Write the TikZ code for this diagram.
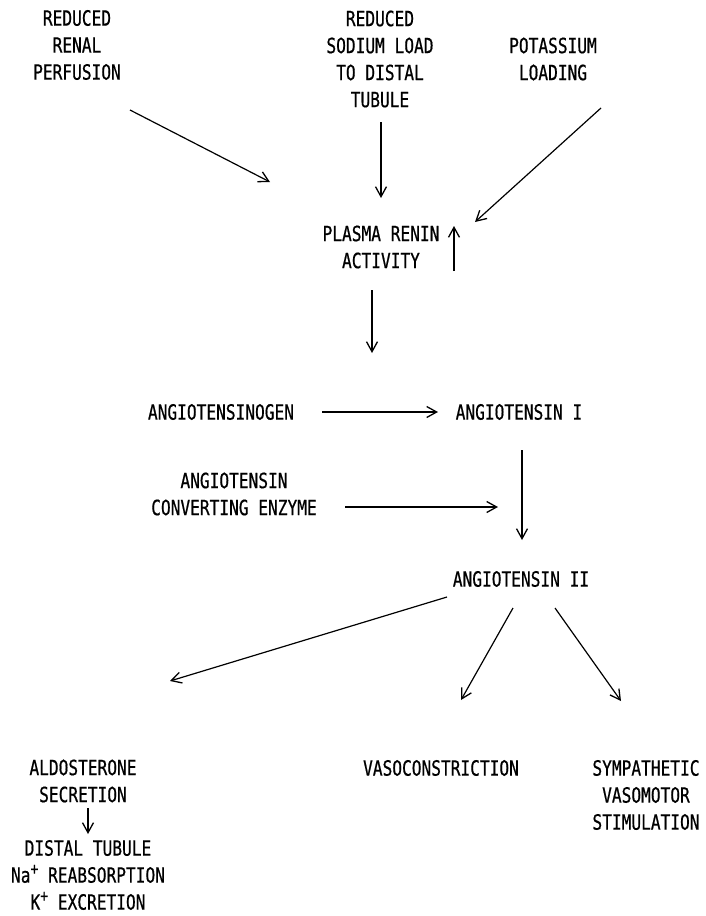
\documentclass[tikz,border=0pt]{standalone}
\usepackage{fontspec}
\setmainfont[FakeStretch=0.77,FakeBold=0.6]{DejaVu Sans Mono}
\usetikzlibrary{arrows.meta}
\newcommand{\supplus}{\raisebox{0.7ex}{\fontsize{17}{17}\selectfont+}}
\begin{document}
\begin{tikzpicture}[x=1pt,y=-1pt,
  lbl/.style={align=center,inner sep=0pt,font=\fontsize{21}{27}\selectfont},
  arr/.style={line width=1.2pt,-{Straight Barb[length=10pt,width=11pt,line width=1.3pt]}}]
\useasboundingbox (0,0) rectangle (706,916);
% texts
\node[lbl] (rrp) at (77,45) {REDUCED\\RENAL\\PERFUSION};
\node[lbl] (rsl) at (380,59) {REDUCED\\SODIUM LOAD\\TO DISTAL\\TUBULE};
\node[lbl] (pl) at (553,59) {POTASSIUM\\LOADING};
\node[lbl] (pra) at (381,247) {PLASMA RENIN\\ACTIVITY};
\node[lbl] (agen) at (221,412) {ANGIOTENSINOGEN};
\node[lbl] (a1) at (519,412) {ANGIOTENSIN I};
\node[lbl] (ace) at (234,494) {ANGIOTENSIN\\CONVERTING ENZYME};
\node[lbl] (a2) at (521,579) {ANGIOTENSIN II};
\node[lbl] (ald) at (83,781) {ALDOSTERONE\\SECRETION};
\node[lbl] (dt) at (88,875) {DISTAL TUBULE\\Na\supplus{} REABSORPTION\\K\supplus{} EXCRETION};
\node[lbl] (vc) at (441,768) {VASOCONSTRICTION};
\node[lbl] (svs) at (646,795) {SYMPATHETIC\\VASOMOTOR\\STIMULATION};
% connector endpoints
\coordinate (c1s) at (130,110); \coordinate (c1e) at (270,182);
\coordinate (c2s) at (381,122); \coordinate (c2e) at (381,198);
\coordinate (c3s) at (601,108); \coordinate (c3e) at (475,222);
\coordinate (ups) at (454,271); \coordinate (upe) at (454,226);
\coordinate (c4s) at (372,290); \coordinate (c4e) at (372,353);
\coordinate (c5s) at (322,412); \coordinate (c5e) at (438,412);
\coordinate (c6s) at (345,507); \coordinate (c6e) at (498,507);
\coordinate (c7s) at (522,450); \coordinate (c7e) at (522,540);
\coordinate (c8s) at (447,597); \coordinate (c8e) at (170,681);
\coordinate (c9s) at (513,608); \coordinate (c9e) at (461,700);
\coordinate (c10s) at (555,608); \coordinate (c10e) at (621,701);
\coordinate (c11s) at (88,808); \coordinate (c11e) at (88,834);
\draw[arr] (c1s) -- (c1e);
\draw[arr] (c2s) -- (c2e);
\draw[arr] (c3s) -- (c3e);
\draw[arr] (ups) -- (upe);
\draw[arr] (c4s) -- (c4e);
\draw[arr] (c5s) -- (c5e);
\draw[arr] (c6s) -- (c6e);
\draw[arr] (c7s) -- (c7e);
\draw[arr] (c8s) -- (c8e);
\draw[arr] (c9s) -- (c9e);
\draw[arr] (c10s) -- (c10e);
\draw[arr] (c11s) -- (c11e);
\end{tikzpicture}
\end{document}
